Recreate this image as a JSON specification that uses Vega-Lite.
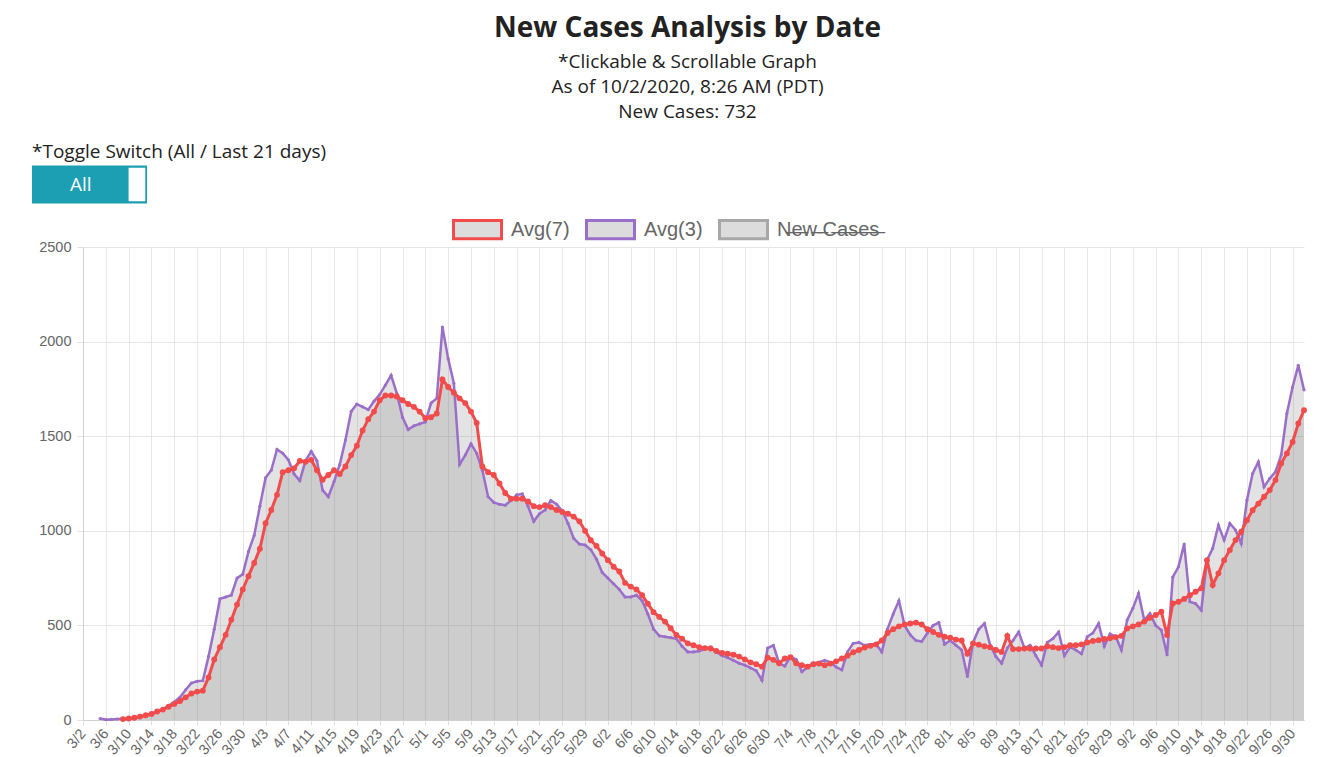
{
  "$schema": "https://vega.github.io/schema/vega-lite/v6.json",
  "width": 1221,
  "height": 473,
  "autosize": {"type": "none"},
  "padding": {"left": 83, "top": 247, "right": 22, "bottom": 37},
  "background": "white",
  "title": {
    "text": "New Cases Analysis by Date",
    "subtitle": ["*Clickable & Scrollable Graph", "As of 10/2/2020, 8:26 AM (PDT)", "New Cases: 732"],
    "anchor": "middle",
    "frame": "group",
    "font": "Open Sans",
    "fontSize": 28,
    "fontWeight": "bold",
    "color": "#222222",
    "subtitleFont": "Open Sans",
    "subtitleFontSize": 19,
    "subtitleColor": "#222222",
    "subtitleLineHeight": 25,
    "subtitlePadding": 10,
    "offset": 21,
    "dx": -6
  },
  "config": {
    "view": {"stroke": null},
    "axis": {"labelFont": "Liberation Sans", "labelFontSize": 14.5, "labelColor": "#666666", "gridColor": "#e6e6e6", "domainColor": "#d0d0d0", "tickColor": "#e0e0e0"}
  },
  "data": {
    "values": [
      {"date": "3/2", "avg7": null, "avg3": null},
      {"date": "3/3", "avg7": null, "avg3": null},
      {"date": "3/4", "avg7": null, "avg3": null},
      {"date": "3/5", "avg7": null, "avg3": 8},
      {"date": "3/6", "avg7": null, "avg3": 2},
      {"date": "3/7", "avg7": null, "avg3": 3},
      {"date": "3/8", "avg7": null, "avg3": 5},
      {"date": "3/9", "avg7": 5, "avg3": 6},
      {"date": "3/10", "avg7": 8, "avg3": 8},
      {"date": "3/11", "avg7": 12, "avg3": 12},
      {"date": "3/12", "avg7": 18, "avg3": 18},
      {"date": "3/13", "avg7": 25, "avg3": 25},
      {"date": "3/14", "avg7": 32, "avg3": 32},
      {"date": "3/15", "avg7": 45, "avg3": 42},
      {"date": "3/16", "avg7": 55, "avg3": 58},
      {"date": "3/17", "avg7": 70, "avg3": 75},
      {"date": "3/18", "avg7": 85, "avg3": 95},
      {"date": "3/19", "avg7": 100, "avg3": 120},
      {"date": "3/20", "avg7": 120, "avg3": 160},
      {"date": "3/21", "avg7": 140, "avg3": 195},
      {"date": "3/22", "avg7": 150, "avg3": 205},
      {"date": "3/23", "avg7": 155, "avg3": 208},
      {"date": "3/24", "avg7": 225, "avg3": 335},
      {"date": "3/25", "avg7": 320, "avg3": 480},
      {"date": "3/26", "avg7": 385, "avg3": 640},
      {"date": "3/27", "avg7": 450, "avg3": 650},
      {"date": "3/28", "avg7": 530, "avg3": 660},
      {"date": "3/29", "avg7": 610, "avg3": 750},
      {"date": "3/30", "avg7": 690, "avg3": 770},
      {"date": "3/31", "avg7": 760, "avg3": 890},
      {"date": "4/1", "avg7": 830, "avg3": 975},
      {"date": "4/2", "avg7": 905, "avg3": 1130},
      {"date": "4/3", "avg7": 1040, "avg3": 1280},
      {"date": "4/4", "avg7": 1110, "avg3": 1320},
      {"date": "4/5", "avg7": 1190, "avg3": 1430},
      {"date": "4/6", "avg7": 1310, "avg3": 1410},
      {"date": "4/7", "avg7": 1320, "avg3": 1375},
      {"date": "4/8", "avg7": 1330, "avg3": 1300},
      {"date": "4/9", "avg7": 1370, "avg3": 1265},
      {"date": "4/10", "avg7": 1365, "avg3": 1370},
      {"date": "4/11", "avg7": 1375, "avg3": 1420},
      {"date": "4/12", "avg7": 1320, "avg3": 1370},
      {"date": "4/13", "avg7": 1270, "avg3": 1215},
      {"date": "4/14", "avg7": 1295, "avg3": 1180},
      {"date": "4/15", "avg7": 1320, "avg3": 1260},
      {"date": "4/16", "avg7": 1300, "avg3": 1350},
      {"date": "4/17", "avg7": 1340, "avg3": 1480},
      {"date": "4/18", "avg7": 1400, "avg3": 1630},
      {"date": "4/19", "avg7": 1450, "avg3": 1670},
      {"date": "4/20", "avg7": 1530, "avg3": 1655},
      {"date": "4/21", "avg7": 1590, "avg3": 1640},
      {"date": "4/22", "avg7": 1630, "avg3": 1685},
      {"date": "4/23", "avg7": 1690, "avg3": 1720},
      {"date": "4/24", "avg7": 1715, "avg3": 1770},
      {"date": "4/25", "avg7": 1715, "avg3": 1822},
      {"date": "4/26", "avg7": 1710, "avg3": 1726},
      {"date": "4/27", "avg7": 1690, "avg3": 1600},
      {"date": "4/28", "avg7": 1670, "avg3": 1535},
      {"date": "4/29", "avg7": 1655, "avg3": 1555},
      {"date": "4/30", "avg7": 1630, "avg3": 1565},
      {"date": "5/1", "avg7": 1595, "avg3": 1575},
      {"date": "5/2", "avg7": 1600, "avg3": 1675},
      {"date": "5/3", "avg7": 1620, "avg3": 1700},
      {"date": "5/4", "avg7": 1800, "avg3": 2077},
      {"date": "5/5", "avg7": 1760, "avg3": 1910},
      {"date": "5/6", "avg7": 1730, "avg3": 1780},
      {"date": "5/7", "avg7": 1700, "avg3": 1350},
      {"date": "5/8", "avg7": 1675, "avg3": 1400},
      {"date": "5/9", "avg7": 1630, "avg3": 1460},
      {"date": "5/10", "avg7": 1570, "avg3": 1410},
      {"date": "5/11", "avg7": 1340, "avg3": 1320},
      {"date": "5/12", "avg7": 1310, "avg3": 1180},
      {"date": "5/13", "avg7": 1295, "avg3": 1150},
      {"date": "5/14", "avg7": 1250, "avg3": 1140},
      {"date": "5/15", "avg7": 1200, "avg3": 1135},
      {"date": "5/16", "avg7": 1170, "avg3": 1160},
      {"date": "5/17", "avg7": 1170, "avg3": 1190},
      {"date": "5/18", "avg7": 1170, "avg3": 1195},
      {"date": "5/19", "avg7": 1155, "avg3": 1130},
      {"date": "5/20", "avg7": 1130, "avg3": 1050},
      {"date": "5/21", "avg7": 1125, "avg3": 1090},
      {"date": "5/22", "avg7": 1135, "avg3": 1110},
      {"date": "5/23", "avg7": 1125, "avg3": 1160},
      {"date": "5/24", "avg7": 1110, "avg3": 1140},
      {"date": "5/25", "avg7": 1100, "avg3": 1105},
      {"date": "5/26", "avg7": 1090, "avg3": 1040},
      {"date": "5/27", "avg7": 1075, "avg3": 960},
      {"date": "5/28", "avg7": 1050, "avg3": 930},
      {"date": "5/29", "avg7": 1000, "avg3": 925},
      {"date": "5/30", "avg7": 950, "avg3": 900},
      {"date": "5/31", "avg7": 920, "avg3": 850},
      {"date": "6/1", "avg7": 880, "avg3": 780},
      {"date": "6/2", "avg7": 845, "avg3": 750},
      {"date": "6/3", "avg7": 810, "avg3": 720},
      {"date": "6/4", "avg7": 785, "avg3": 690},
      {"date": "6/5", "avg7": 725, "avg3": 650},
      {"date": "6/6", "avg7": 705, "avg3": 650},
      {"date": "6/7", "avg7": 690, "avg3": 660},
      {"date": "6/8", "avg7": 660, "avg3": 630},
      {"date": "6/9", "avg7": 615, "avg3": 560},
      {"date": "6/10", "avg7": 570, "avg3": 480},
      {"date": "6/11", "avg7": 545, "avg3": 445},
      {"date": "6/12", "avg7": 520, "avg3": 440},
      {"date": "6/13", "avg7": 485, "avg3": 435},
      {"date": "6/14", "avg7": 450, "avg3": 430},
      {"date": "6/15", "avg7": 430, "avg3": 390},
      {"date": "6/16", "avg7": 405, "avg3": 360},
      {"date": "6/17", "avg7": 395, "avg3": 360},
      {"date": "6/18", "avg7": 385, "avg3": 365},
      {"date": "6/19", "avg7": 380, "avg3": 375},
      {"date": "6/20", "avg7": 378, "avg3": 385},
      {"date": "6/21", "avg7": 365, "avg3": 360},
      {"date": "6/22", "avg7": 355, "avg3": 340},
      {"date": "6/23", "avg7": 350, "avg3": 330},
      {"date": "6/24", "avg7": 345, "avg3": 315},
      {"date": "6/25", "avg7": 335, "avg3": 300},
      {"date": "6/26", "avg7": 320, "avg3": 290},
      {"date": "6/27", "avg7": 305, "avg3": 275},
      {"date": "6/28", "avg7": 295, "avg3": 260},
      {"date": "6/29", "avg7": 282, "avg3": 210},
      {"date": "6/30", "avg7": 330, "avg3": 380},
      {"date": "7/1", "avg7": 318, "avg3": 395},
      {"date": "7/2", "avg7": 300, "avg3": 300},
      {"date": "7/3", "avg7": 325, "avg3": 285},
      {"date": "7/4", "avg7": 332, "avg3": 335},
      {"date": "7/5", "avg7": 300, "avg3": 320},
      {"date": "7/6", "avg7": 290, "avg3": 255},
      {"date": "7/7", "avg7": 282, "avg3": 280},
      {"date": "7/8", "avg7": 295, "avg3": 300},
      {"date": "7/9", "avg7": 298, "avg3": 305},
      {"date": "7/10", "avg7": 290, "avg3": 315},
      {"date": "7/11", "avg7": 298, "avg3": 305},
      {"date": "7/12", "avg7": 310, "avg3": 280},
      {"date": "7/13", "avg7": 325, "avg3": 265},
      {"date": "7/14", "avg7": 340, "avg3": 360},
      {"date": "7/15", "avg7": 358, "avg3": 405},
      {"date": "7/16", "avg7": 370, "avg3": 410},
      {"date": "7/17", "avg7": 383, "avg3": 395},
      {"date": "7/18", "avg7": 392, "avg3": 400},
      {"date": "7/19", "avg7": 400, "avg3": 400},
      {"date": "7/20", "avg7": 420, "avg3": 360},
      {"date": "7/21", "avg7": 460, "avg3": 480},
      {"date": "7/22", "avg7": 480, "avg3": 560},
      {"date": "7/23", "avg7": 495, "avg3": 630},
      {"date": "7/24", "avg7": 505, "avg3": 500},
      {"date": "7/25", "avg7": 510, "avg3": 450},
      {"date": "7/26", "avg7": 515, "avg3": 420},
      {"date": "7/27", "avg7": 505, "avg3": 415},
      {"date": "7/28", "avg7": 480, "avg3": 460},
      {"date": "7/29", "avg7": 465, "avg3": 500},
      {"date": "7/30", "avg7": 450, "avg3": 515},
      {"date": "7/31", "avg7": 440, "avg3": 400},
      {"date": "8/1", "avg7": 435, "avg3": 420},
      {"date": "8/2", "avg7": 425, "avg3": 395},
      {"date": "8/3", "avg7": 420, "avg3": 370},
      {"date": "8/4", "avg7": 350, "avg3": 230},
      {"date": "8/5", "avg7": 405, "avg3": 410},
      {"date": "8/6", "avg7": 398, "avg3": 480},
      {"date": "8/7", "avg7": 390, "avg3": 510},
      {"date": "8/8", "avg7": 385, "avg3": 395},
      {"date": "8/9", "avg7": 370, "avg3": 335},
      {"date": "8/10", "avg7": 360, "avg3": 300},
      {"date": "8/11", "avg7": 445, "avg3": 380},
      {"date": "8/12", "avg7": 375, "avg3": 420},
      {"date": "8/13", "avg7": 375, "avg3": 465},
      {"date": "8/14", "avg7": 378, "avg3": 380},
      {"date": "8/15", "avg7": 378, "avg3": 395},
      {"date": "8/16", "avg7": 378, "avg3": 340},
      {"date": "8/17", "avg7": 378, "avg3": 290},
      {"date": "8/18", "avg7": 390, "avg3": 410},
      {"date": "8/19", "avg7": 385, "avg3": 430},
      {"date": "8/20", "avg7": 380, "avg3": 465},
      {"date": "8/21", "avg7": 385, "avg3": 340},
      {"date": "8/22", "avg7": 395, "avg3": 385},
      {"date": "8/23", "avg7": 395, "avg3": 370},
      {"date": "8/24", "avg7": 400, "avg3": 350},
      {"date": "8/25", "avg7": 410, "avg3": 440},
      {"date": "8/26", "avg7": 418, "avg3": 460},
      {"date": "8/27", "avg7": 422, "avg3": 510},
      {"date": "8/28", "avg7": 428, "avg3": 390},
      {"date": "8/29", "avg7": 432, "avg3": 455},
      {"date": "8/30", "avg7": 438, "avg3": 440},
      {"date": "8/31", "avg7": 445, "avg3": 370},
      {"date": "9/1", "avg7": 484, "avg3": 528},
      {"date": "9/2", "avg7": 495, "avg3": 590},
      {"date": "9/3", "avg7": 505, "avg3": 669},
      {"date": "9/4", "avg7": 520, "avg3": 528},
      {"date": "9/5", "avg7": 540, "avg3": 563},
      {"date": "9/6", "avg7": 555, "avg3": 500},
      {"date": "9/7", "avg7": 572, "avg3": 475},
      {"date": "9/8", "avg7": 449, "avg3": 345},
      {"date": "9/9", "avg7": 616, "avg3": 755},
      {"date": "9/10", "avg7": 625, "avg3": 810},
      {"date": "9/11", "avg7": 640, "avg3": 930},
      {"date": "9/12", "avg7": 660, "avg3": 625},
      {"date": "9/13", "avg7": 678, "avg3": 615},
      {"date": "9/14", "avg7": 696, "avg3": 580},
      {"date": "9/15", "avg7": 845, "avg3": 845},
      {"date": "9/16", "avg7": 713, "avg3": 907},
      {"date": "9/17", "avg7": 775, "avg3": 1030},
      {"date": "9/18", "avg7": 845, "avg3": 951},
      {"date": "9/19", "avg7": 898, "avg3": 1039},
      {"date": "9/20", "avg7": 951, "avg3": 1004},
      {"date": "9/21", "avg7": 995, "avg3": 933},
      {"date": "9/22", "avg7": 1056, "avg3": 1162},
      {"date": "9/23", "avg7": 1109, "avg3": 1303},
      {"date": "9/24", "avg7": 1144, "avg3": 1364},
      {"date": "9/25", "avg7": 1180, "avg3": 1232},
      {"date": "9/26", "avg7": 1215, "avg3": 1277},
      {"date": "9/27", "avg7": 1268, "avg3": 1312},
      {"date": "9/28", "avg7": 1356, "avg3": 1400},
      {"date": "9/29", "avg7": 1409, "avg3": 1620},
      {"date": "9/30", "avg7": 1470, "avg3": 1760},
      {"date": "10/1", "avg7": 1567, "avg3": 1875},
      {"date": "10/2", "avg7": 1637, "avg3": 1745}
    ]
  },
  "transform": [{"fold": ["avg7", "avg3"], "as": ["series", "value"]}],
  "encoding": {
    "x": {
      "field": "date",
      "type": "ordinal",
      "sort": null,
      "scale": {"type": "point", "padding": 0},
      "axis": {
        "title": null,
        "values": ["3/2","3/6","3/10","3/14","3/18","3/22","3/26","3/30","4/3","4/7","4/11","4/15","4/19","4/23","4/27","5/1","5/5","5/9","5/13","5/17","5/21","5/25","5/29","6/2","6/6","6/10","6/14","6/18","6/22","6/26","6/30","7/4","7/8","7/12","7/16","7/20","7/24","7/28","8/1","8/5","8/9","8/13","8/17","8/21","8/25","8/29","9/2","9/6","9/10","9/14","9/18","9/22","9/26","9/30"],
        "labelAngle": -50,
        "labelAlign": "right",
        "labelBaseline": "middle",
        "labelPadding": 6,
        "tickSize": 5,
        "grid": true
      }
    },
    "y": {
      "field": "value",
      "type": "quantitative",
      "stack": null,
      "scale": {"domain": [0, 2500], "nice": false},
      "axis": {"title": null, "values": [0, 500, 1000, 1500, 2000, 2500], "format": "d", "tickSize": 6, "labelPadding": 6, "grid": true}
    }
  },
  "layer": [
    {
      "mark": {"type": "area", "color": "#808080", "opacity": 0.22},
      "encoding": {"detail": {"field": "series"}}
    },
    {
      "transform": [{"filter": "datum.series == 'avg3'"}],
      "mark": {"type": "line", "strokeWidth": 2.5},
      "encoding": {
        "stroke": {
          "field": "series",
          "type": "nominal",
          "scale": {"domain": ["avg7", "avg3", "newcases"], "range": ["#f24b4b", "#9b6fc8", "#a8a8a8"]},
          "legend": {
            "orient": "none",
            "legendX": 369,
            "legendY": -43,
            "direction": "horizontal",
            "title": null,
            "labelExpr": "datum.value == 'avg7' ? 'Avg(7)' : datum.value == 'avg3' ? 'Avg(3)' : 'N\u0336e\u0336w\u0336 \u0336C\u0336a\u0336s\u0336e\u0336s\u0336'",
            "symbolType": "M-1,-0.38H1V0.38H-1Z",
            "symbolSize": 2304,
            "symbolStrokeWidth": 3,
            "symbolFillColor": "#dcdcdc",
            "labelFont": "Liberation Sans",
            "labelFontSize": 20,
            "labelColor": "#666666",
            "labelOffset": 8,
            "columnPadding": 10
          }
        }
      }
    },
    {
      "transform": [{"filter": "datum.series == 'avg3'"}],
      "mark": {"type": "point", "filled": true, "size": 10, "opacity": 1, "color": "#9b6fc8"}
    },
    {
      "transform": [{"filter": "datum.series == 'avg7'"}],
      "mark": {"type": "line", "strokeWidth": 3},
      "encoding": {"stroke": {"field": "series", "type": "nominal"}}
    },
    {
      "transform": [{"filter": "datum.series == 'avg7'"}],
      "mark": {"type": "point", "filled": true, "size": 34, "opacity": 1, "color": "#f24b4b"}
    },
    {
      "transform": [{"filter": "false"}],
      "mark": {"type": "point", "filled": true, "color": "#1d9fb3", "opacity": 1, "size": 13225},
      "encoding": {
        "shape": {
          "datum": "All",
          "scale": {"range": ["M-1,-0.33H1V0.33H-1Z M0.68,-0.29V0.29H0.97V-0.29Z"]},
          "legend": {
            "orient": "none",
            "legendX": -51,
            "legendY": -104,
            "title": "*Toggle Switch (All / Last 21 days)",
            "titleFont": "Open Sans",
            "titleFontSize": 19,
            "titleFontWeight": "normal",
            "titleColor": "#222222",
            "titleLimit": 400,
            "titlePadding": -35,
            "symbolSize": 13225,
            "symbolFillColor": "#1d9fb3",
            "symbolStrokeWidth": 0,
            "labelColor": "white",
            "labelFont": "Open Sans",
            "labelFontSize": 19,
            "labelOffset": -77
          }
        }
      }
    }
  ]
}
